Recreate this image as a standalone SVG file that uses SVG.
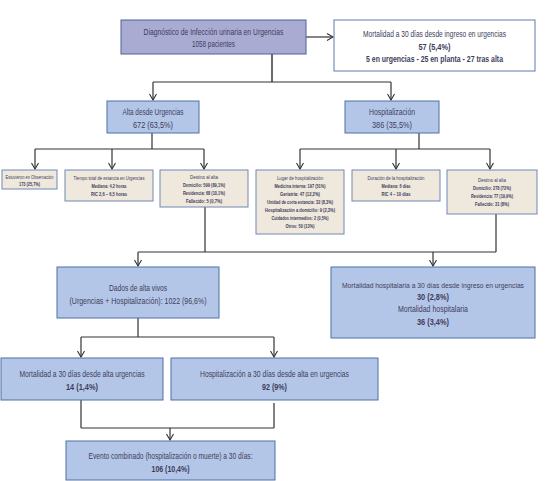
<svg xmlns="http://www.w3.org/2000/svg" width="554" height="481" viewBox="0 0 554 481">
<defs>
<style>
text{font-family:"Liberation Sans",Arial,sans-serif;fill:#3d3d5c;text-anchor:middle}
.m{font-size:8.8px}
.s{font-size:5.4px}
.b{font-weight:bold}
.top{fill:#a9abd3;stroke:#4d6396;stroke-width:1}
.blue{fill:#b4c6e7;stroke:#4e70a6;stroke-width:1}
.beige{fill:#efe8dc;stroke:#6f87b4;stroke-width:1}
.white{fill:#ffffff;stroke:#5c7cb0;stroke-width:1}
.c{fill:none;stroke:#333;stroke-width:1.2}
.a{fill:none;stroke:#333;stroke-width:1.2;marker-end:url(#ah)}
</style>
<marker id="ah" viewBox="0 0 8 8" refX="7" refY="4" markerWidth="8" markerHeight="8" markerUnits="userSpaceOnUse" orient="auto">
<path d="M1,0.5 L7,4 L1,7.5" fill="none" stroke="#333" stroke-width="1.1"/>
</marker>
</defs>
<g id="connectors">
<path class="a" d="M306,37 H333"/>
<path d="M272,54 V82" fill="none" stroke="#5a5a5a" stroke-width="1.8"/>
<path class="c" d="M153,82 H391"/>
<path class="a" d="M153,82 V100"/>
<path class="a" d="M391,82 V100"/>
<path class="c" d="M152,133 V149 M35,149 H204"/>
<path class="a" d="M35,149 V169"/>
<path class="a" d="M112,149 V169"/>
<path class="a" d="M204,149 V169"/>
<path class="c" d="M419,133 V149 M300,149 H490"/>
<path class="a" d="M300,149 V169"/>
<path class="a" d="M396,149 V169"/>
<path class="a" d="M490,149 V169"/>
<path class="c" d="M205,207 V252 M496,214 V252 M138,252 H496"/>
<path class="a" d="M138,252 V266"/>
<path class="a" d="M433,252 V266"/>
<path class="c" d="M138,318 V337 M81,337 H274"/>
<path class="a" d="M81,337 V357"/>
<path class="a" d="M274,337 V357"/>
<path class="c" d="M81,400 V428 M274,403 V428 M81,428 H274"/>
<path class="a" d="M170,428 V440"/>
</g>
<g id="diagnostico">
<rect class="top" x="121" y="20" width="185" height="34"/>
<text class="m" x="213.5" y="35" textLength="140" lengthAdjust="spacingAndGlyphs">Diagnóstico de Infección urinaria en Urgencias</text>
<text class="m" x="213.5" y="47" textLength="43" lengthAdjust="spacingAndGlyphs">1058 pacientes</text>
</g>
<g id="mortalidad30">
<rect class="white" x="334" y="20" width="201" height="51"/>
<text class="m" x="434.5" y="37" textLength="143" lengthAdjust="spacingAndGlyphs">Mortalidad a 30 días desde ingreso en urgencias</text>
<text class="m b" x="434.5" y="50" textLength="32" lengthAdjust="spacingAndGlyphs">57 (5,4%)</text>
<text class="m b" x="434.5" y="62" textLength="137" lengthAdjust="spacingAndGlyphs">5 en urgencias - 25 en planta - 27 tras alta</text>
</g>
<g id="alta">
<rect class="blue" x="107" y="101" width="92" height="32"/>
<text class="m" x="153" y="115" textLength="61" lengthAdjust="spacingAndGlyphs">Alta desde Urgencias</text>
<text class="m" x="153" y="128" textLength="40" lengthAdjust="spacingAndGlyphs">672 (63,5%)</text>
</g>
<g id="hospitalizacion">
<rect class="blue" x="345" y="101" width="94" height="32"/>
<text class="m" x="392" y="115" textLength="46" lengthAdjust="spacingAndGlyphs">Hospitalización</text>
<text class="m" x="392" y="128" textLength="40" lengthAdjust="spacingAndGlyphs">386 (35,5%)</text>
</g>
<g id="observacion">
<rect class="beige" x="2" y="170" width="55" height="19"/>
<text class="s" x="29.5" y="179" textLength="48" lengthAdjust="spacingAndGlyphs">Estuvieron en Observación</text>
<text class="s b" x="29.5" y="186" textLength="21" lengthAdjust="spacingAndGlyphs">173 (25,7%)</text>
</g>
<g id="tiempo">
<rect class="beige" x="65" y="170" width="88" height="31"/>
<text class="s" x="109" y="180" textLength="71" lengthAdjust="spacingAndGlyphs">Tiempo total de estancia en Urgencias</text>
<text class="s b" x="109" y="188" textLength="35" lengthAdjust="spacingAndGlyphs">Mediana: 4,2 horas</text>
<text class="s b" x="109" y="196" textLength="36" lengthAdjust="spacingAndGlyphs">RIC 2,6 – 6,5 horas</text>
</g>
<g id="destino-alta-urg">
<rect class="beige" x="160" y="170" width="88" height="37"/>
<text class="s" x="204" y="179" textLength="28" lengthAdjust="spacingAndGlyphs">Destino al alta</text>
<text class="s b" x="204" y="187" textLength="42" lengthAdjust="spacingAndGlyphs">Domicilio: 599 (89,1%)</text>
<text class="s b" x="204" y="195" textLength="42" lengthAdjust="spacingAndGlyphs">Residencia: 68 (10,1%)</text>
<text class="s b" x="204" y="203" textLength="36" lengthAdjust="spacingAndGlyphs">Fallecido: 5 (0,7%)</text>
</g>
<g id="lugar">
<rect class="beige" x="256" y="170" width="88" height="64"/>
<text class="s" x="300" y="180" textLength="46" lengthAdjust="spacingAndGlyphs">Lugar de hospitalización</text>
<text class="s b" x="300" y="188" textLength="51" lengthAdjust="spacingAndGlyphs">Medicina interna: 197 (51%)</text>
<text class="s b" x="300" y="196" textLength="40" lengthAdjust="spacingAndGlyphs">Geriatría: 47 (12,2%)</text>
<text class="s b" x="300" y="204" textLength="66" lengthAdjust="spacingAndGlyphs">Unidad de corta estancia: 32 (8,3%)</text>
<text class="s b" x="300" y="212" textLength="70" lengthAdjust="spacingAndGlyphs">Hospitalización a domicilio: 9 (2,3%)</text>
<text class="s b" x="300" y="220" textLength="57" lengthAdjust="spacingAndGlyphs">Cuidados intermedios: 2 (0,5%)</text>
<text class="s b" x="300" y="228" textLength="29" lengthAdjust="spacingAndGlyphs">Otros: 50 (13%)</text>
</g>
<g id="duracion">
<rect class="beige" x="352" y="170" width="88" height="31"/>
<text class="s" x="396" y="180" textLength="57" lengthAdjust="spacingAndGlyphs">Duración de la hospitalización</text>
<text class="s b" x="396" y="188" textLength="29" lengthAdjust="spacingAndGlyphs">Mediana: 6 días</text>
<text class="s b" x="396" y="196" textLength="29" lengthAdjust="spacingAndGlyphs">RIC 4 – 10 días</text>
</g>
<g id="destino-alta-hosp">
<rect class="beige" x="447" y="170" width="90" height="44"/>
<text class="s" x="492" y="182" textLength="28" lengthAdjust="spacingAndGlyphs">Destino al alta</text>
<text class="s b" x="492" y="190" textLength="38" lengthAdjust="spacingAndGlyphs">Domicilio: 278 (72%)</text>
<text class="s b" x="492" y="198" textLength="42" lengthAdjust="spacingAndGlyphs">Residencia: 77 (19,9%)</text>
<text class="s b" x="492" y="206" textLength="34" lengthAdjust="spacingAndGlyphs">Fallecido: 31 (8%)</text>
</g>
<g id="dados">
<rect class="blue" x="57" y="267" width="162" height="51"/>
<text class="m" x="138" y="291" textLength="58" lengthAdjust="spacingAndGlyphs">Dados de alta vivos</text>
<text class="m" x="138" y="304" textLength="137" lengthAdjust="spacingAndGlyphs">(Urgencias + Hospitalización): 1022 (96,6%)</text>
</g>
<g id="mortalidad-hosp">
<rect class="blue" x="331" y="267" width="204" height="71"/>
<text x="433" y="288" font-size="7.6" textLength="182" lengthAdjust="spacingAndGlyphs">Mortalidad hospitalaria a 30 días desde ingreso en urgencias</text>
<text class="m b" x="433" y="300" textLength="32" lengthAdjust="spacingAndGlyphs">30 (2,8%)</text>
<text class="m" x="433" y="312" textLength="70" lengthAdjust="spacingAndGlyphs">Mortalidad hospitalaria</text>
<text class="m b" x="433" y="325" textLength="32" lengthAdjust="spacingAndGlyphs">36 (3,4%)</text>
</g>
<g id="mortalidad-alta">
<rect class="blue" x="1" y="358" width="162" height="42"/>
<text class="m" x="82" y="377" textLength="125" lengthAdjust="spacingAndGlyphs">Mortalidad a 30 días desde alta urgencias</text>
<text class="m b" x="82" y="390" textLength="32" lengthAdjust="spacingAndGlyphs">14 (1,4%)</text>
</g>
<g id="hosp-alta">
<rect class="blue" x="171" y="358" width="207" height="42"/>
<text class="m" x="274.5" y="377" textLength="149" lengthAdjust="spacingAndGlyphs">Hospitalización a 30 días desde alta en urgencias</text>
<text class="m b" x="274.5" y="390" textLength="25" lengthAdjust="spacingAndGlyphs">92 (9%)</text>
</g>
<g id="evento">
<rect class="blue" x="66" y="441" width="209" height="39"/>
<text class="m" x="170.5" y="459" textLength="164" lengthAdjust="spacingAndGlyphs">Evento combinado (hospitalización o muerte) a 30 días:</text>
<text class="m b" x="170.5" y="472" textLength="38" lengthAdjust="spacingAndGlyphs">106 (10,4%)</text>
</g>
</svg>
